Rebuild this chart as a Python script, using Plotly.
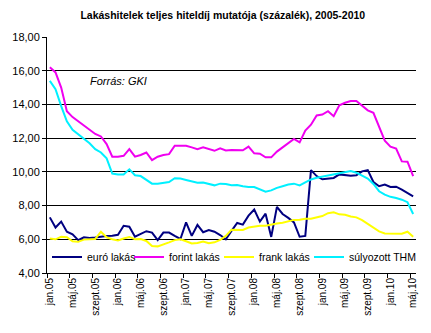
import plotly.graph_objects as go

# Hungarian month abbreviations, monthly series Jan 2005 – May 2010
month_abbr = ["jan.", "febr.", "márc.", "ápr.", "máj.", "jún.",
              "júl.", "aug.", "szept.", "okt.", "nov.", "dec."]
months = [f"{month_abbr[m]}{y:02d}" for y in range(5, 11) for m in range(12)][:65]

euro = [7.30, 6.70, 7.05, 6.45, 6.30, 5.95, 6.12, 6.08, 6.10, 6.17,
        6.20, 6.21, 6.27, 6.80, 6.75, 6.15, 6.30, 6.48, 6.40, 5.95,
        6.40, 6.40, 6.20, 6.02, 7.00, 6.20, 6.85, 6.42, 6.55, 6.45,
        6.25, 6.00, 6.50, 6.97, 6.87, 7.40, 7.76, 7.05, 7.52, 6.14,
        7.92, 7.50, 7.27, 7.00, 6.15, 6.20, 10.10, 9.75, 9.56, 9.60,
        9.64, 9.85, 9.80, 9.77, 9.80, 10.03, 10.10, 9.40, 9.15, 9.25,
        9.10, 9.12, 8.94, 8.75, 8.55]

forint = [16.20, 15.90, 15.00, 13.60, 13.25, 13.00, 12.70, 12.45, 12.25, 12.10,
          11.65, 10.90, 10.90, 10.95, 11.35, 10.90, 11.00, 11.15, 10.70, 10.90,
          11.00, 11.05, 11.55, 11.55, 11.55, 11.45, 11.35, 11.45, 11.35, 11.25,
          11.40, 11.27, 11.30, 11.28, 11.28, 11.50, 11.10, 11.08, 10.86, 10.86,
          11.20, 11.45, 11.70, 11.95, 11.75, 12.45, 12.80, 13.35, 13.40, 13.60,
          13.30, 13.95, 14.10, 14.20, 14.20, 13.95, 13.65, 13.50, 12.70, 11.85,
          11.50, 11.38, 10.62, 10.60, 9.75]

frank = [6.05, 6.00, 6.15, 6.12, 5.88, 5.85, 5.98, 5.98, 6.02, 6.45,
         6.12, 6.00, 5.93, 6.05, 6.14, 6.00, 6.02, 5.90, 5.60, 5.58,
         5.68, 5.82, 5.95, 6.00, 5.88, 5.75, 5.78, 5.86, 5.76, 5.82,
         5.96, 6.20, 6.57, 6.55, 6.55, 6.70, 6.77, 6.80, 6.81, 6.85,
         6.93, 6.98, 7.05, 7.15, 7.16, 7.22, 7.22, 7.30, 7.38, 7.55,
         7.60, 7.48, 7.45, 7.35, 7.30, 7.14, 6.92, 6.70, 6.47, 6.35,
         6.33, 6.33, 6.33, 6.45, 6.15]

thm = [15.40, 14.90, 13.90, 13.00, 12.50, 12.25, 12.00, 11.70, 11.35, 11.15,
       10.80, 9.90, 9.85, 9.85, 10.15, 9.80, 9.75, 9.55, 9.30, 9.30,
       9.33, 9.40, 9.62, 9.60, 9.52, 9.42, 9.35, 9.37, 9.28, 9.20,
       9.30, 9.28, 9.20, 9.22, 9.15, 9.10, 9.10, 8.98, 8.82, 8.90,
       9.05, 9.15, 9.25, 9.30, 9.20, 9.38, 9.55, 9.65, 9.72, 9.80,
       9.85, 9.90, 10.00, 10.05, 9.95, 9.78, 9.60, 9.28, 8.85, 8.65,
       8.52, 8.45, 8.35, 8.20, 7.50]

series = [
    ("euró lakás", euro, "#000080", 37),
    ("forint lakás", forint, "#F000F0", 45),
    ("frank lakás", frank, "#FFFF00", 45),
    ("súlyozott THM", thm, "#00F0FF", None),
]

FONT = "Liberation Sans, Arial, sans-serif"
x = list(range(len(months)))
label_idx = list(range(0, len(months), 4))

fig = go.Figure()
for name, vals, color, lw in series:
    fig.add_trace(go.Scatter(
        x=x, y=vals, name=name, mode="lines",
        line=dict(color=color, width=2),
        legendwidth=lw,
    ))

fig.update_layout(
    width=431, height=333,
    margin=dict(l=44, r=15, t=37, b=60),
    paper_bgcolor="white", plot_bgcolor="white",
    separators=", ",
    font=dict(family=FONT, size=11, color="black"),
    title=dict(
        text="<b>Lakáshitelek teljes hiteldíj mutatója (százalék), 2005-2010</b>",
        font=dict(family=FONT, size=10.5, color="black"),
        x=0.517, xref="container", xanchor="center",
        y=0.953, yref="container", yanchor="middle",
    ),
    showlegend=True,
    legend=dict(
        orientation="h", x=0.0, xanchor="left", y=0.068, yanchor="middle",
        bgcolor="rgba(0,0,0,0)", borderwidth=0,
        font=dict(family=FONT, size=10.5, color="black"),
        traceorder="normal",
    ),
    xaxis=dict(
        range=[-0.5, len(months) - 0.5],
        tickmode="array", tickvals=label_idx,
        ticktext=[months[i] for i in label_idx],
        tickangle=-90, ticks="", ticklen=0,
        tickfont=dict(family=FONT, size=10, color="black"),
        showgrid=False, zeroline=False,
        showline=True, linecolor="black", linewidth=1,
        minor=dict(tickmode="array",
                   tickvals=[i - 0.5 for i in label_idx],
                   ticks="outside", ticklen=4, tickcolor="black", tickwidth=1,
                   showgrid=False),
    ),
    yaxis=dict(
        range=[4, 18], tickmode="linear", tick0=4, dtick=2,
        tickformat=".2f",
        ticks="outside", ticklen=4, tickcolor="black",
        tickfont=dict(family=FONT, size=11, color="black"),
        showgrid=True, gridcolor="black", gridwidth=1,
        zeroline=False,
        showline=True, linecolor="black", linewidth=1,
    ),
    annotations=[dict(
        text="<i>Forrás: GKI</i>", xref="paper", yref="paper",
        x=0.11, y=0.812, xanchor="left", yanchor="middle",
        showarrow=False, font=dict(family=FONT, size=11, color="black"),
    )],
)

fig.write_html("out.html")
